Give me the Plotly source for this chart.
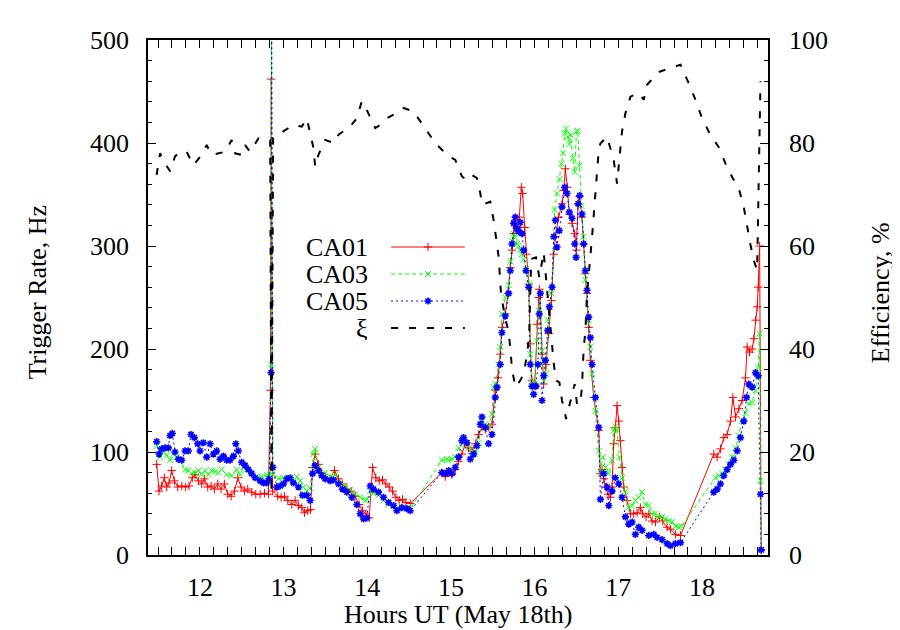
import plotly.graph_objects as go

FONT = "Liberation Serif, Times New Roman, serif"

# ---------------- data ----------------
ca01_hours = [
    11.484, 11.512, 11.543, 11.575, 11.603, 11.631, 11.663, 11.695, 11.735, 11.783,
    11.831, 11.870, 11.910, 11.942, 11.982, 12.022, 12.054, 12.094, 12.134, 12.173,
    12.213, 12.253, 12.293, 12.333, 12.373, 12.413, 12.453, 12.492, 12.532, 12.572,
    12.620, 12.668, 12.720, 12.772, 12.819, 12.843, 12.853, 12.870, 12.931, 12.971,
    13.011, 13.051, 13.098, 13.138, 13.178, 13.218, 13.250, 13.290, 13.322, 13.346,
    13.378, 13.417, 13.457, 13.505, 13.557, 13.609, 13.657, 13.705, 13.756, 13.808,
    13.856, 13.904, 13.944, 13.984, 14.024, 14.064, 14.103, 14.143, 14.183, 14.223,
    14.263, 14.303, 14.343, 14.382, 14.422, 14.462, 14.514, 14.893, 14.933, 14.973,
    15.012, 15.052, 15.092, 15.132, 15.172, 15.212, 15.252, 15.292, 15.331, 15.371,
    15.411, 15.451, 15.491, 15.531, 15.562, 15.590, 15.610, 15.650, 15.682, 15.710,
    15.730, 15.750, 15.770, 15.790, 15.818, 15.842, 15.858, 15.882, 15.902, 15.930,
    15.949, 15.969, 16.001, 16.029, 16.049, 16.057, 16.089, 16.109, 16.137, 16.169,
    16.201, 16.229, 16.249, 16.288, 16.328, 16.348, 16.368, 16.392, 16.416, 16.448,
    16.480, 16.500, 16.520, 16.539, 16.567, 16.587, 16.607, 16.627, 16.647, 16.667,
    16.707, 16.767, 16.787, 16.807, 16.827, 16.847, 16.878, 16.906, 16.926, 16.946,
    16.966, 16.986, 17.006, 17.026, 17.046, 17.066, 17.106, 17.146, 17.185, 17.225,
    17.265, 17.293, 17.333, 17.365, 17.405, 17.445, 17.492, 17.532, 17.584, 17.624,
    17.684, 17.744, 18.142, 18.182, 18.222, 18.262, 18.302, 18.342, 18.370, 18.402,
    18.442, 18.481, 18.521, 18.541, 18.569, 18.601, 18.621, 18.641, 18.661, 18.673,
    18.690, 18.709,
]
ca01_rate = [
    88, 62, 67, 75, 66, 70, 82, 72, 66, 67,
    66, 67, 75, 78, 72, 69, 74, 66, 67, 64,
    69, 64, 69, 59, 57, 62, 75, 66, 62, 64,
    61, 59, 59, 60, 59, 160, 462, 62, 57, 56,
    57, 53, 49, 53, 48, 46, 41, 43, 44, 85,
    98, 88, 80, 75, 74, 82, 74, 69, 64, 62,
    57, 49, 43, 40, 36, 85, 75, 72, 73, 69,
    66, 62, 56, 53, 54, 51, 50, 80, 76, 80,
    78, 83, 91, 98, 108, 104, 101, 108, 117, 124,
    122, 124, 127, 160, 172, 195, 221, 234, 254, 279,
    296, 312, 325, 318, 328, 357, 351, 318, 292, 263,
    205, 169, 164, 224, 250, 258, 195, 166, 185, 215,
    247, 292, 309, 328, 341, 354, 375, 357, 331, 322,
    312, 296, 341, 348, 328, 302, 273, 254, 221, 189,
    153, 121, 79, 83, 74, 66, 59, 56, 66, 108,
    124, 145, 130, 111, 85, 66, 53, 40, 40, 41,
    46, 40, 37, 40, 33, 32, 37, 33, 27, 25,
    20, 19, 98, 95, 103, 114, 117, 130, 153, 134,
    142, 150, 172, 202, 197, 200, 210, 228, 241, 260,
    300, 5,
]

ca03_hours = [
    11.484, 11.524, 11.563, 11.603, 11.643, 11.683, 11.723, 11.763, 11.823, 11.862,
    11.902, 11.942, 11.982, 12.022, 12.062, 12.102, 12.142, 12.182, 12.221, 12.261,
    12.321, 12.381, 12.440, 12.480, 12.520, 12.560, 12.620, 12.680, 12.740, 12.800,
    12.839, 12.849, 12.856, 12.870, 12.939, 12.999, 13.059, 13.118, 13.158, 13.198,
    13.238, 13.278, 13.318, 13.358, 13.378, 13.417, 13.457, 13.497, 13.557, 13.617,
    13.677, 13.737, 13.796, 13.856, 13.916, 13.976, 13.996, 14.036, 14.075, 14.135,
    14.195, 14.255, 14.315, 14.374, 14.434, 14.494, 14.514, 14.893, 14.953, 14.973,
    15.012, 15.052, 15.092, 15.132, 15.172, 15.212, 15.252, 15.292, 15.331, 15.371,
    15.411, 15.451, 15.491, 15.511, 15.531, 15.571, 15.590, 15.610, 15.650, 15.690,
    15.710, 15.730, 15.750, 15.770, 15.790, 15.810, 15.830, 15.850, 15.870, 15.900,
    15.937, 15.949, 15.969, 16.001, 16.029, 16.049, 16.069, 16.089, 16.109, 16.137,
    16.161, 16.177, 16.201, 16.240, 16.268, 16.300, 16.320, 16.340, 16.360, 16.376,
    16.396, 16.416, 16.432, 16.456, 16.480, 16.500, 16.516, 16.536, 16.559, 16.583,
    16.607, 16.647, 16.667, 16.687, 16.727, 16.767, 16.787, 16.815, 16.847, 16.887,
    16.926, 16.946, 16.966, 16.986, 17.014, 17.046, 17.086, 17.126, 17.166, 17.205,
    17.245, 17.285, 17.325, 17.365, 17.405, 17.445, 17.484, 17.524, 17.564, 17.604,
    17.644, 17.684, 17.724, 17.755, 18.162, 18.202, 18.242, 18.282, 18.322, 18.361,
    18.401, 18.441, 18.481, 18.521, 18.561, 18.601, 18.641, 18.673, 18.689, 18.700,
    18.709,
]
ca03_rate = [
    106, 95, 100, 97, 92, 98, 95, 92, 83, 82,
    79, 80, 82, 78, 82, 78, 82, 81, 80, 83,
    78, 77, 83, 78, 85, 83, 80, 76, 76, 78,
    78, 185, 540, 78, 74, 75, 74, 71, 76, 72,
    66, 62, 65, 98, 103, 85, 78, 80, 76, 78,
    70, 67, 63, 59, 56, 53, 54, 62, 60, 58,
    53, 49, 48, 46, 46, 45, 45, 92, 93, 92,
    93, 95, 104, 113, 108, 104, 101, 98, 109, 130,
    127, 124, 137, 163, 166, 185, 202, 234, 250, 262,
    285, 305, 312, 308, 302, 300, 296, 292, 287, 278,
    263, 195, 169, 166, 208, 237, 254, 198, 169, 176,
    228, 241, 254, 335, 351, 365, 380, 390, 409, 414,
    406, 399, 408, 385, 372, 411, 412, 378, 339, 309,
    267, 228, 202, 176, 140, 101, 79, 95, 85, 79,
    92, 121, 125, 121, 95, 75, 62, 46, 48, 53,
    56, 61, 49, 48, 40, 40, 37, 37, 35, 33,
    32, 28, 27, 28, 75, 77, 79, 83, 88, 95,
    104, 116, 130, 138, 147, 148, 160, 182, 215, 72,
    5,
]

ca05_hours = [
    11.484, 11.512, 11.543, 11.583, 11.623, 11.643, 11.671, 11.703, 11.743, 11.783,
    11.823, 11.862, 11.894, 11.934, 11.974, 12.002, 12.042, 12.082, 12.122, 12.162,
    12.201, 12.241, 12.281, 12.321, 12.361, 12.401, 12.429, 12.460, 12.500, 12.540,
    12.580, 12.620, 12.660, 12.720, 12.760, 12.800, 12.827, 12.851, 12.857, 12.872,
    12.919, 12.959, 12.999, 13.039, 13.079, 13.118, 13.178, 13.226, 13.278, 13.318,
    13.346, 13.378, 13.417, 13.457, 13.497, 13.557, 13.597, 13.657, 13.705, 13.757,
    13.816, 13.876, 13.916, 13.956, 13.996, 14.036, 14.075, 14.135, 14.195, 14.255,
    14.315, 14.355, 14.414, 14.474, 14.514, 14.893, 14.933, 14.973, 15.012, 15.052,
    15.092, 15.132, 15.152, 15.192, 15.232, 15.272, 15.311, 15.351, 15.371, 15.411,
    15.451, 15.491, 15.531, 15.551, 15.590, 15.610, 15.650, 15.690, 15.710, 15.730,
    15.750, 15.770, 15.790, 15.810, 15.830, 15.850, 15.870, 15.898, 15.930, 15.949,
    15.969, 15.989, 16.017, 16.041, 16.057, 16.069, 16.089, 16.109, 16.129, 16.157,
    16.177, 16.209, 16.229, 16.249, 16.268, 16.296, 16.328, 16.360, 16.388, 16.416,
    16.448, 16.480, 16.496, 16.520, 16.539, 16.567, 16.587, 16.607, 16.627, 16.647,
    16.667, 16.687, 16.727, 16.767, 16.787, 16.827, 16.867, 16.887, 16.926, 16.966,
    17.006, 17.046, 17.086, 17.126, 17.166, 17.205, 17.245, 17.285, 17.365, 17.425,
    17.465, 17.524, 17.584, 17.624, 17.684, 17.744, 18.142, 18.182, 18.222, 18.262,
    18.302, 18.342, 18.382, 18.422, 18.461, 18.501, 18.533, 18.561, 18.601, 18.641,
    18.673, 18.701, 18.709,
]
ca05_rate = [
    110, 98, 103, 104, 104, 116, 118, 100, 93, 92,
    101, 101, 117, 114, 108, 101, 109, 95, 108, 98,
    101, 93, 96, 92, 92, 96, 108, 101, 90, 87,
    83, 79, 75, 72, 70, 70, 74, 177, 560, 85,
    66, 67, 69, 74, 75, 70, 66, 58, 58, 53,
    79, 87, 82, 77, 74, 72, 73, 69, 64, 61,
    56, 49, 40, 35, 36, 67, 64, 61, 56, 51,
    48, 43, 46, 45, 43, 80, 79, 82, 79, 85,
    95, 111, 114, 109, 93, 98, 106, 127, 134, 124,
    108, 117, 153, 163, 185, 216, 232, 254, 276, 302,
    322, 328, 317, 314, 323, 312, 296, 276, 260, 185,
    164, 156, 164, 185, 234, 254, 150, 174, 189, 218,
    241, 260, 309, 325, 299, 315, 338, 357, 351, 333,
    327, 302, 289, 341, 349, 331, 302, 276, 257, 231,
    211, 185, 153, 124, 54, 79, 66, 48, 62, 75,
    69, 56, 37, 30, 32, 20, 27, 24, 19, 20,
    17, 15, 11, 9, 11, 12, 61, 64, 69, 77,
    83, 88, 92, 101, 114, 130, 153, 166, 163, 177,
    174, 59, 5,
]

xi_hours = [
    11.483, 11.524, 11.584, 11.644, 11.703, 11.763, 11.842, 11.922, 12.022, 12.081,
    12.141, 12.221, 12.301, 12.380, 12.421, 12.500, 12.541, 12.600, 12.700, 12.840,
    12.856, 12.875, 12.939, 13.019, 13.118, 13.218, 13.278, 13.358, 13.378, 13.417,
    13.498, 13.597, 13.657, 13.797, 13.876, 13.935, 13.995, 14.055, 14.096, 14.156,
    14.234, 14.315, 14.434, 14.554, 14.673, 14.813, 14.952, 15.053, 15.132, 15.191,
    15.251, 15.311, 15.352, 15.371, 15.471, 15.511, 15.571, 15.600, 15.651, 15.690,
    15.711, 15.730, 15.770, 15.830, 15.870, 15.909, 15.935, 15.960, 16.017, 16.057,
    16.109, 16.148, 16.228, 16.256, 16.297, 16.328, 16.360, 16.376, 16.440, 16.480,
    16.507, 16.548, 16.567, 16.587, 16.608, 16.627, 16.687, 16.727, 16.767, 16.787,
    16.866, 16.946, 16.986, 17.045, 17.086, 17.146, 17.245, 17.305, 17.344, 17.484,
    17.604, 17.744, 17.843, 17.923, 18.002, 18.103, 18.202, 18.282, 18.361, 18.441,
    18.500, 18.540, 18.581, 18.620, 18.660, 18.700,
]
xi_eff = [
    73.8, 78, 76, 74.5, 77.4, 78.3, 78.3, 75.7, 77.7, 79.6,
    77.7, 78, 78.3, 80.6, 78, 77.7, 79.6, 78.3, 80.9, 80.6,
    12, 81, 81.6, 82.5, 83.5, 83.2, 84.8, 79, 75.4, 77.7,
    80.6, 80, 81.6, 83.2, 84.8, 88.1, 86.4, 84.5, 82.9, 83.5,
    84.8, 85.5, 86.8, 86.1, 83.2, 80, 77.7, 76.7, 73.5, 72.8,
    73.8, 73.2, 70.2, 68, 68.6, 65, 57.9, 50.5, 45.9, 43.3,
    40, 36.2, 32.6, 33.9, 35.2, 38.8, 42.5, 57.5, 57.8, 53.9,
    58.8, 51.7, 37.4, 33.9, 33.5, 30, 28, 26.4, 30.6, 33.2,
    29.3, 29.3, 32.9, 40, 43.6, 50.7, 61.7, 70.2, 78.6, 79.9,
    81.2, 76.7, 72.1, 82.2, 85.8, 89, 89.7, 88.4, 91.3, 93.8,
    94.5, 95.2, 91.6, 88.4, 84.8, 81.5, 79.2, 76, 73.4, 71.2,
    67.6, 63.7, 60.2, 57.2, 55.3, 92,
]

series_names = ["CA01", "CA03", "CA05", "ξ"]

# ---------------- styles ----------------
RED, GREEN, BLUE, BLACK = "#ff0000", "#00ff00", "#0000ff", "#000000"
styles = {
    "CA01": dict(line=dict(color=RED, width=1),
                 marker=dict(symbol="cross-thin", size=6, color=RED, line=dict(color=RED, width=1))),
    "CA03": dict(line=dict(color=GREEN, width=1, dash="4px,3px"),
                 marker=dict(symbol="x-thin", size=6, color=GREEN, line=dict(color=GREEN, width=1))),
    "CA05": dict(line=dict(color=BLUE, width=1, dash="2px,3px"),
                 marker=dict(symbol="asterisk-open", size=6, color=BLUE, line=dict(color=BLUE, width=1.6))),
    "ξ": dict(line=dict(color=BLACK, width=2, dash="7px,11px")),
}

fig = go.Figure()
fig.add_trace(go.Scatter(x=ca01_hours, y=ca01_rate, mode="lines+markers", name="CA01",
                         showlegend=False, **styles["CA01"]))
fig.add_trace(go.Scatter(x=ca03_hours, y=ca03_rate, mode="lines+markers", name="CA03",
                         showlegend=False, **styles["CA03"]))
fig.add_trace(go.Scatter(x=ca05_hours, y=ca05_rate, mode="lines+markers", name="CA05",
                         showlegend=False, **styles["CA05"]))
fig.add_trace(go.Scatter(x=xi_hours, y=xi_eff, mode="lines", name="ξ", yaxis="y2",
                         showlegend=False, **styles["ξ"]))

# ---------------- gnuplot-like key (text left, sample right) ----------------
KEY_ROWS = [0.598, 0.5456, 0.4932, 0.4408]   # fractions of plot height
KEY_TEXT_X = 0.358                           # right edge of key text (fraction of plot width)
KEY_LINE_X = [0.392, 0.511]
KEY_MARK_X = 0.4516
for name, ry in zip(series_names, KEY_ROWS):
    st = styles[name]
    fig.add_trace(go.Scatter(x=KEY_LINE_X, y=[ry, ry], mode="lines", line=st["line"],
                             xaxis="x3", yaxis="y3", showlegend=False, hoverinfo="skip"))
    if "marker" in st:
        fig.add_trace(go.Scatter(x=[KEY_MARK_X], y=[ry], mode="markers", marker=st["marker"],
                                 xaxis="x3", yaxis="y3", showlegend=False, hoverinfo="skip"))
    fig.add_annotation(x=KEY_TEXT_X, y=ry, xref="paper", yref="paper", text=name,
                       showarrow=False, xanchor="right", yanchor="middle",
                       height=24, valign="middle",
                       font=dict(family=FONT, size=26, color="black"))

# axis titles
fig.add_annotation(x=0.5, y=-0.116, xref="paper", yref="paper", text="Hours UT (May 18th)",
                   showarrow=False, xanchor="center", yanchor="middle",
                   font=dict(family=FONT, size=26, color="black"))
fig.add_annotation(x=-0.179, y=0.51, xref="paper", yref="paper", text="Trigger Rate, Hz",
                   showarrow=False, xanchor="center", yanchor="middle", textangle=-90,
                   font=dict(family=FONT, size=26, color="black"))
fig.add_annotation(x=1.182, y=0.51, xref="paper", yref="paper", text="Efficiency, %",
                   showarrow=False, xanchor="center", yanchor="middle", textangle=-90,
                   font=dict(family=FONT, size=26, color="black"))

axis_common = dict(showgrid=False, zeroline=False, showline=True, linecolor="black",
                   linewidth=1.5, ticks="inside", tickcolor="black", tickwidth=1,
                   tickfont=dict(family=FONT, size=26, color="black"))

fig.update_layout(
    width=900, height=630,
    margin=dict(l=140, r=140, t=32, b=83),
    paper_bgcolor="white", plot_bgcolor="white",
    font=dict(family=FONT, size=26, color="black"),
    showlegend=False,
    xaxis=dict(range=[11.38, 18.79], tick0=12, dtick=1, ticklen=8, mirror="allticks",
               ticklabelstandoff=8,
               minor=dict(dtick=1 / 6, tick0=12, ticklen=4, ticks="inside", tickcolor="black"),
               **axis_common),
    yaxis=dict(range=[0, 500], tick0=0, dtick=100, ticklen=8, mirror=False,
               ticklabelstandoff=12,
               minor=dict(dtick=20, ticklen=4, ticks="inside", tickcolor="black"),
               **axis_common),
    yaxis2=dict(range=[0, 100], tick0=0, dtick=20, ticklen=8, overlaying="y", side="right",
                ticklabelstandoff=14,
                minor=dict(dtick=4, ticklen=4, ticks="inside", tickcolor="black"),
                **axis_common),
    xaxis3=dict(range=[0, 1], overlaying="x", anchor="y3", visible=False, fixedrange=True),
    yaxis3=dict(range=[0, 1], overlaying="y", anchor="x3", visible=False, fixedrange=True),
)

fig.write_html("out.html")
